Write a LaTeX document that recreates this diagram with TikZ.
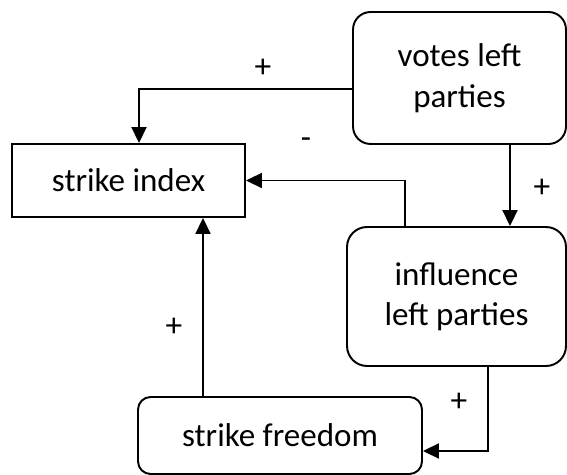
\documentclass[tikz,border=0pt]{standalone}
\usepackage{fontspec}
\setmainfont{Carlito}
\usetikzlibrary{arrows.meta,positioning}

\begin{document}
\begin{tikzpicture}[x=0.02cm,y=-0.02cm,line width=1.1pt,
  >={Triangle[length=0.32cm,width=0.3cm]},
  box/.style={draw,inner sep=0pt,align=center,font=\fontsize{18.8}{23}\selectfont},
  sign/.style={font=\fontsize{19}{22}\selectfont}]
\useasboundingbox (0,0) rectangle (567,475);

% draw the boxes
\node[box,rounded corners=0.35cm,minimum width=4.26cm,minimum height=2.64cm] (votes) at (459.5,78) {votes left\\parties};
\node[box,minimum width=4.66cm,minimum height=1.46cm] (sindex) at (128.5,180.5) {strike index};
\node[box,rounded corners=0.4cm,minimum width=4.38cm,minimum height=2.78cm] (infl) at (456.5,296.5) {influence\\left parties};
\node[box,rounded corners=0.25cm,minimum width=5.68cm,minimum height=1.54cm] (sfree) at (280,435.5) {strike freedom};

% draw the arrows between the boxes
\draw[->] ([shift={(0,11)}]votes.west) -| ([shift={(10.5,0)}]sindex.north);
\draw[->] ([shift={(50.5,0)}]votes.south) -- ([shift={(50.5,0)}]votes.south |- infl.north);
\draw[->] ([shift={(-51.5,0)}]infl.north) |- (sindex.east);
\draw[->] ([shift={(-77,0)}]sfree.north) -- ([shift={(-77,0)}]sfree.north |- sindex.south);
\draw[->] ([shift={(31.5,0)}]infl.south) |- ([shift={(0,15.5)}]sfree.east);

% signs of the effects
\node[sign] (s1) at (263,68) {+};
\node[sign] (s2) at (306,143) {-};
\node[sign] (s3) at (542,188) {+};
\node[sign] (s4) at (174,327) {+};
\node[sign] (s5) at (459,402) {+};
\end{tikzpicture}
\end{document}
